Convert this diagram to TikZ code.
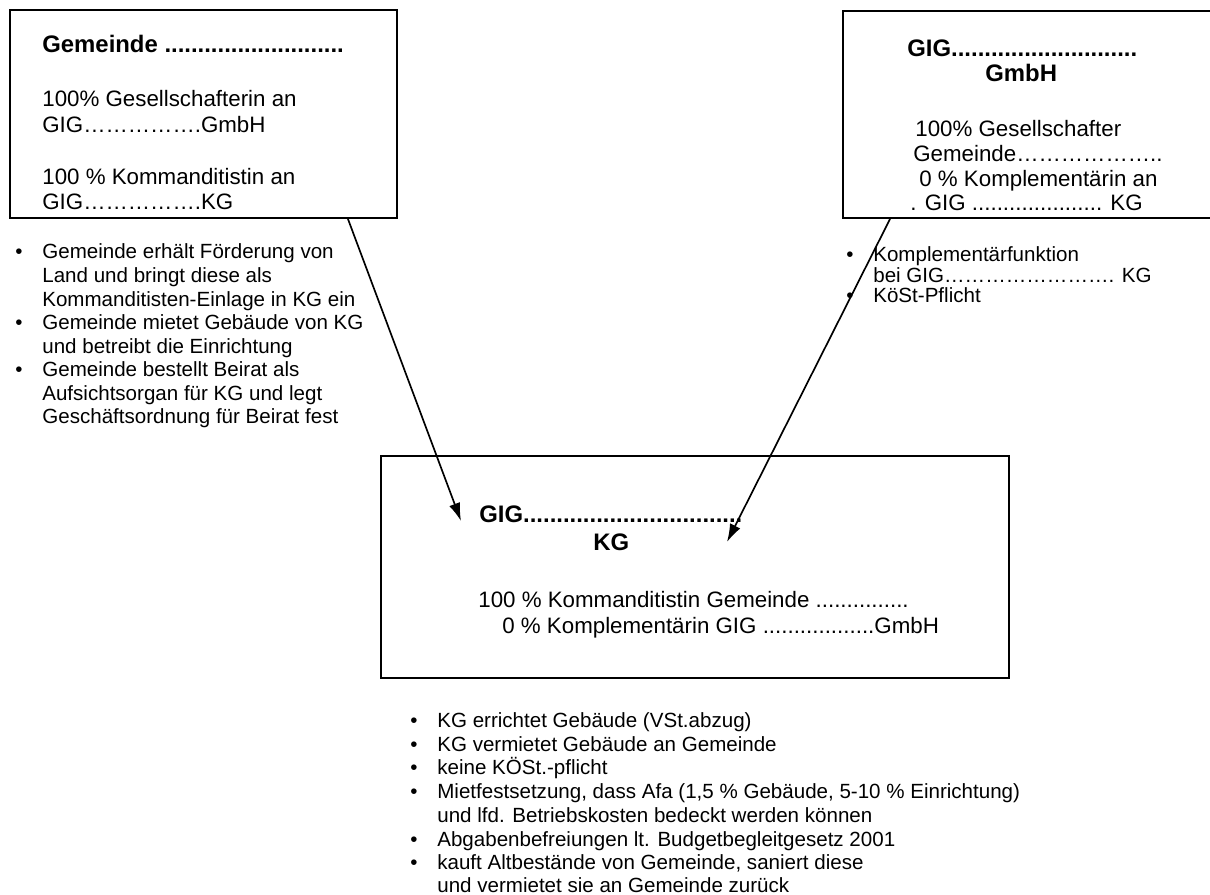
\documentclass[tikz,border=0pt]{standalone}
\usepackage{fontspec}
\setmainfont{Liberation Sans}
\usetikzlibrary{arrows.meta}
\newcommand{\bul}{\llap{\makebox[0.54cm][l]{\textbullet}}}

\begin{document}
\begin{tikzpicture}[x=0.02cm, y=-0.02cm,
    box/.style={draw=black, line width=1.1pt, inner sep=0pt},
    boxtxt/.style={anchor=base west, inner sep=0pt, font=\fontsize{12.7}{15}\selectfont},
    headtxt/.style={anchor=base west, inner sep=0pt, font=\fontsize{13.6}{16}\selectfont\bfseries},
    bultxt/.style={anchor=base west, inner sep=0pt, font=\fontsize{11.7}{13.4}\selectfont},
    link/.style={line width=0.95pt, -{Latex[length=3.6mm,width=2.3mm]}}]

\useasboundingbox (0,0) rectangle (1210,895);
\clip (0,0) rectangle (1210,895);

\node[box, minimum width=7.74cm, minimum height=4.16cm] (gem) at (203.5,114) {};
\node[headtxt] (gemhead) at (42,53) {Gemeinde ...........................};
\node[boxtxt] (gema) at (42,107) {100\% Gesellschafterin an};
\node[boxtxt] (gemb) at (42,133) {GIG…………….GmbH};
\node[boxtxt] (gemc) at (42,185) {100 \% Kommanditistin an};
\node[boxtxt] (gemd) at (42,210) {GIG…………….KG};

\node[bultxt] (gl1) at (42,258) {\bul Gemeinde erhält Förderung von};
\node[bultxt] (gl2) at (42,282) {Land und bringt diese als};
\node[bultxt] (gl3) at (42,306) {Kommanditisten-Einlage in KG ein};
\node[bultxt] (gl4) at (42,329) {\bul Gemeinde mietet Gebäude von KG};
\node[bultxt] (gl5) at (42,353) {und betreibt die Einrichtung};
\node[bultxt] (gl6) at (42,376) {\bul Gemeinde bestellt Beirat als};
\node[bultxt] (gl7) at (42,400) {Aufsichtsorgan für KG und legt};
\node[bultxt] (gl8) at (42,423) {Geschäftsordnung für Beirat fest};

\node[box, minimum width=7.38cm, minimum height=4.14cm] (gmbh) at (1027.5,114.5) {};
\node[headtxt] (gmbhhead) at (907,57) {GIG............................};
\node[headtxt] (gmbhsub) at (985,82) {GmbH};
\node[boxtxt] (gmbha) at (915,137) {100\% Gesellschafter};
\node[boxtxt] (gmbhb) at (913,162) {Gemeinde………………..};
\node[boxtxt] (gmbhc) at (919,187) {0 \% Komplementärin an};
\node[boxtxt] (gmbhd) at (910,211) {. GIG ..................... KG};

\node[bultxt] (gr1) at (873,261) {\bul Komplementärfunktion};
\node[bultxt] (gr2) at (873,282) {bei GIG……………………. KG};
\node[bultxt] (gr3) at (873,302) {\bul KöSt-Pflicht};

\node[box, minimum width=12.56cm, minimum height=4.44cm] (kg) at (695,567) {};
\node[headtxt] (kghead) at (479,522) {GIG.................................};
\node[headtxt] (kgsub) at (593,550) {KG};
\node[boxtxt] (kga) at (478,607) {100 \% Kommanditistin Gemeinde ...............};
\node[boxtxt] (kgb) at (502,633) {0 \% Komplementärin GIG ..................GmbH};

\node[bultxt] (kl1) at (437,727) {\bul KG errichtet Gebäude (VSt.abzug)};
\node[bultxt] (kl2) at (437,751) {\bul KG vermietet Gebäude an Gemeinde};
\node[bultxt] (kl3) at (437,774) {\bul keine KÖSt.-pflicht};
\node[bultxt] (kl4) at (437,798) {\bul Mietfestsetzung, dass Afa (1,5 \% Gebäude, 5-10 \% Einrichtung)};
\node[bultxt] (kl5) at (437,822) {und lfd. Betriebskosten bedeckt werden können};
\node[bultxt] (kl6) at (437,846) {\bul Abgabenbefreiungen lt. Budgetbegleitgesetz 2001};
\node[bultxt] (kl7) at (437,869) {\bul kauft Altbestände von Gemeinde, saniert diese};
\node[bultxt] (kl8) at (437,892) {und vermietet sie an Gemeinde zurück};

\coordinate (tipa) at (461,521);
\coordinate (tipb) at (727,542);
\draw[link] ([xshift=-1cm]gem.south east) -- (tipa);
\draw[link] ([xshift=0.96cm]gmbh.south west) -- (tipb);
\end{tikzpicture}
\end{document}
